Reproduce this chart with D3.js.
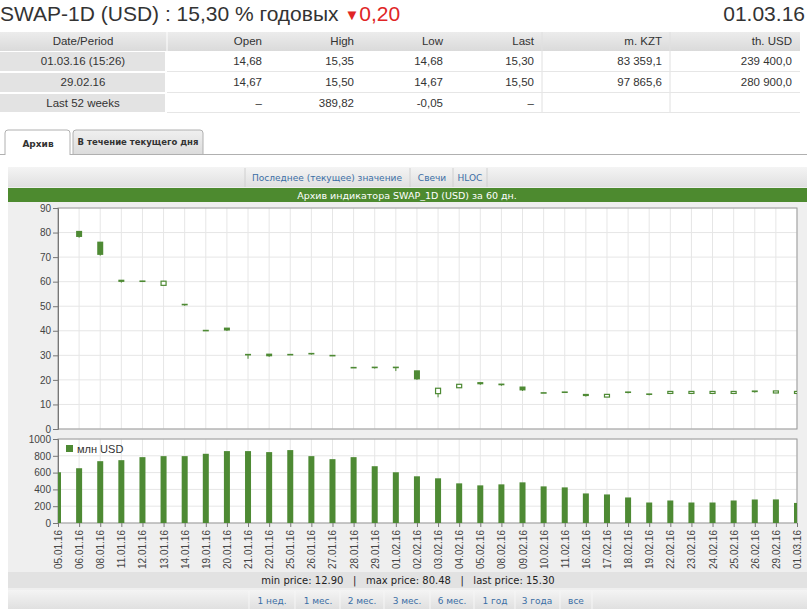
<!DOCTYPE html>
<html>
<head>
<meta charset="utf-8">
<script src="https://cdn.jsdelivr.net/npm/d3@7"></script>
<style>
body { margin: 0; background: #fff; }
svg { display: block; }
.link { fill: #3b6ea5; font-family: "DejaVu Sans", sans-serif; font-size: 9px; }
.tick text { font-family: "Liberation Sans", Arial, sans-serif; font-size: 10px; fill: #444; }
</style>
</head>
<body>
<svg id="c" width="807" height="609"></svg>
<script>
"use strict";
// dates of the 60 day archive
const dates = ["05.01.16","06.01.16","08.01.16","11.01.16","12.01.16","13.01.16","14.01.16","19.01.16","20.01.16","21.01.16","22.01.16","25.01.16","26.01.16","27.01.16","28.01.16","29.01.16","01.02.16","02.02.16","03.02.16","04.02.16","05.02.16","08.02.16","09.02.16","10.02.16","11.02.16","16.02.16","17.02.16","18.02.16","19.02.16","22.02.16","23.02.16","24.02.16","25.02.16","26.02.16","29.02.16","01.03.16"];
const open  = [null,80.48,76.1,60.6,60.3,58.5,50.8,40.2,41.1,30.4,30.5,30.4,30.8,30.0,25.1,25.2,25.2,23.7,14.4,16.8,18.9,18.3,17.1,14.8,15.1,14.1,13.0,15.1,14.3,14.5,14.5,14.5,14.5,15.5,14.67,14.68];
const high  = [null,80.48,76.1,60.6,60.3,60.3,50.8,40.2,41.1,30.4,30.5,30.4,30.8,30.0,25.1,25.2,25.2,23.7,16.6,18.2,18.9,18.3,17.1,14.8,15.1,14.1,14.1,15.1,14.3,15.3,15.3,15.3,15.3,15.5,15.50,15.35];
const low   = [null,77.9,70.6,59.6,60.2,58.5,50.2,40.1,39.9,28.6,29.4,30.3,30.3,30.0,25.0,24.6,23.6,20.0,12.9,16.8,18.0,17.6,15.5,14.7,15.0,13.2,13.0,14.5,13.7,14.5,14.5,14.5,14.5,14.8,14.67,14.68];
const close = [null,78.0,70.7,59.7,60.25,60.2,50.75,40.15,39.9,30.3,29.4,30.35,30.3,29.95,25.05,24.6,25.1,20.0,16.6,18.2,18.0,17.6,15.5,14.75,15.05,13.2,14.1,14.5,13.7,15.3,15.3,15.3,15.3,14.8,15.50,15.30];
const volume = [604,652,736,748,784,796,796,824,856,856,844,868,796,760,784,676,604,556,532,472,448,460,484,436,424,352,340,304,244,268,244,244,268,280,281,239];

const priceTicks = [0,10,20,30,40,50,60,70,80,90];
const volumeTicks = [0,200,400,600,800,1000];

const tableHead = ["Date/Period","Open","High","Low","Last","m. KZT","th. USD"];
const tableRows = [
  ["01.03.16 (15:26)","14,68","15,35","14,68","15,30","83 359,1","239 400,0"],
  ["29.02.16","14,67","15,50","14,67","15,50","97 865,6","280 900,0"],
  ["Last 52 weeks","–","389,82","-0,05","–","",""]
];
const viewLinks = ["Последнее (текущее) значение","Свечи","HLOC"];
const periodLinks = ["1 нед.","1 мес.","2 мес.","3 мес.","6 мес.","1 год","3 года","все"];

const green = "#4e8a34";
const svg = d3.select("#c");
const defs = svg.append("defs");
function grad(id, a, b) {
  const g = defs.append("linearGradient").attr("id", id).attr("x1", 0).attr("x2", 0).attr("y1", 0).attr("y2", 1);
  g.append("stop").attr("offset", 0).attr("stop-color", a);
  g.append("stop").attr("offset", 1).attr("stop-color", b);
}
grad("gBar", "#f4f4f4", "#e0e0e0");
grad("gHead", "#ececec", "#dadada");
grad("gTab", "#f0f0f0", "#dcdcdc");

// ---- header
const title = svg.append("text").attr("x", 0).attr("y", 21)
  .style("font-family", "Liberation Sans, Arial, sans-serif").style("font-size", "21px").attr("fill", "#333");
title.append("tspan").text("SWAP-1D (USD) : 15,30 % годовых ");
title.append("tspan").attr("fill", "#e02525").style("font-size", "15px").attr("dy", -1).text("▼");
title.append("tspan").attr("fill", "#e02525").attr("dy", 1).text("0,20");
svg.append("text").attr("x", 805).attr("y", 21).attr("text-anchor", "end")
  .style("font-family", "Liberation Sans, Arial, sans-serif").style("font-size", "21px").attr("fill", "#333").text("01.03.16");

// ---- table
const colEdges = [0, 167, 270, 362, 451, 542, 670, 800];
const rowEdges = [32, 51, 72, 93, 113];
const tbl = svg.append("g").style("font-family", "Liberation Sans Narrow, Liberation Sans, Arial, sans-serif").style("font-size", "11.5px").attr("fill", "#333");
tbl.append("rect").attr("x", 0).attr("y", rowEdges[0]).attr("width", 800).attr("height", 19).attr("fill", "url(#gHead)");
[542, 670].forEach(x => tbl.append("line").attr("x1", x).attr("x2", x).attr("y1", 32).attr("y2", 113).attr("stroke", "#e0e0e0"));
tbl.append("line").attr("x1", 167).attr("x2", 167).attr("y1", 32).attr("y2", 51).attr("stroke", "#fff");
for (let r = 1; r < 4; r++) {
  tbl.append("rect").attr("x", 0).attr("y", rowEdges[r] + 1).attr("width", 165).attr("height", rowEdges[r + 1] - rowEdges[r] - 2).attr("fill", "#e3e3e3");
  tbl.append("line").attr("x1", 167).attr("x2", 800).attr("y1", rowEdges[r + 1] - 0.5).attr("y2", rowEdges[r + 1] - 0.5).attr("stroke", "#e6e6e6");
}
tableHead.forEach((h, i) => {
  tbl.append("text").attr("x", i === 0 ? 83 : colEdges[i + 1] - 8).attr("y", 45)
    .attr("text-anchor", i === 0 ? "middle" : "end").text(h);
});
tableRows.forEach((row, r) => {
  row.forEach((v, i) => {
    tbl.append("text").attr("x", i === 0 ? 83 : colEdges[i + 1] - 8).attr("y", rowEdges[r + 1] + 14)
      .attr("text-anchor", i === 0 ? "middle" : "end").text(v);
  });
});

// ---- tabs
svg.append("line").attr("x1", 0).attr("x2", 807).attr("y1", 154.5).attr("y2", 154.5).attr("stroke", "#b0b0b0");
svg.append("path").attr("d", "M5,155 V133 Q5,130 8,130 H67 Q70,130 70,133 V155").attr("fill", "#fff").attr("stroke", "#b0b0b0");
svg.append("path").attr("d", "M73,154 V133 Q73,130 76,130 H200 Q203,130 203,133 V154").attr("fill", "url(#gTab)").attr("stroke", "#b0b0b0");
svg.append("text").attr("x", 38).attr("y", 147).attr("text-anchor", "middle")
  .style("font-family", "DejaVu Sans, sans-serif").style("font-size", "9px").style("font-weight", "bold").attr("fill", "#333").text("Архив");
svg.append("text").attr("x", 138).attr("y", 145).attr("text-anchor", "middle")
  .style("font-family", "DejaVu Sans, sans-serif").style("font-size", "8.5px").style("font-weight", "bold").attr("fill", "#333").text("В течение текущего дня");

// ---- chart container
svg.append("rect").attr("x", 8).attr("y", 167).attr("width", 799).attr("height", 442).attr("fill", "#efefef");
svg.append("rect").attr("x", 8).attr("y", 167).attr("width", 799).attr("height", 20).attr("fill", "url(#gBar)");
const viewX = [327, 432, 470];
const viewSep = [245, 410, 453, 487];
viewSep.forEach(x => svg.append("line").attr("x1", x).attr("x2", x).attr("y1", 168).attr("y2", 187).attr("stroke", "#d0d0d0"));
viewLinks.forEach((t, i) => svg.append("text").attr("class", "link").attr("x", viewX[i]).attr("y", 181).attr("text-anchor", "middle").text(t));
svg.append("rect").attr("x", 8).attr("y", 188).attr("width", 799).attr("height", 14).attr("fill", "#4d8a2f");
svg.append("text").attr("x", 407).attr("y", 199).attr("text-anchor", "middle")
  .style("font-family", "DejaVu Sans, sans-serif").style("font-size", "9.5px").attr("fill", "#fff")
  .text("Архив индикатора SWAP_1D (USD) за 60 дн.");

// ---- scales
const x = d3.scalePoint().domain(dates).range([58, 797]);
const yP = d3.scaleLinear().domain([0, 90]).range([429, 208]);
const yV = d3.scaleLinear().domain([0, 1000]).range([523, 439]);

defs.append("clipPath").attr("id", "clipP").append("rect").attr("x", 58).attr("y", 208).attr("width", 739).attr("height", 221);
defs.append("clipPath").attr("id", "clipV").append("rect").attr("x", 58).attr("y", 439).attr("width", 739).attr("height", 84);

function panel(y, ticks, clip) {
  const g = svg.append("g");
  const [y0, y1] = y.range();
  g.append("rect").attr("x", 58).attr("y", y1).attr("width", 739).attr("height", y0 - y1).attr("fill", "#fff");
  g.selectAll(".vg").data(dates).join("line")
    .attr("x1", d => x(d)).attr("x2", d => x(d)).attr("y1", y1).attr("y2", y0).attr("stroke", "#e6e6e6");
  g.selectAll(".hg").data(ticks).join("line")
    .attr("x1", 58).attr("x2", 797).attr("y1", d => y(d)).attr("y2", d => y(d)).attr("stroke", "#e6e6e6");
  g.append("rect").attr("x", 58).attr("y", y1).attr("width", 739).attr("height", y0 - y1)
    .attr("fill", "none").attr("stroke", "#9a9a9a");
  const ax = svg.append("g").attr("transform", "translate(58,0)")
    .call(d3.axisLeft(y).tickValues(ticks).tickFormat(d3.format("d")).tickSize(5).tickPadding(2));
  ax.select(".domain").attr("stroke", "#777");
  ax.selectAll(".tick line").attr("stroke", "#777");
  return svg.append("g").attr("clip-path", "url(#" + clip + ")");
}

// ---- price candles
const pg = panel(yP, priceTicks, "clipP");
const candles = dates.map((d, i) => ({ d, o: open[i], h: high[i], l: low[i], c: close[i] })).filter(c => c.o !== null);
pg.selectAll(".wick").data(candles).join("line")
  .attr("x1", c => x(c.d)).attr("x2", c => x(c.d))
  .attr("y1", c => yP(c.h)).attr("y2", c => yP(c.l)).attr("stroke", green);
pg.selectAll(".body").data(candles).join("rect")
  .attr("x", c => c.c >= c.o ? x(c.d) - 2.5 : x(c.d) - 3)
  .attr("width", c => c.c >= c.o ? 5 : 6)
  .attr("y", c => yP(Math.max(c.o, c.c)) - (c.c >= c.o ? 0 : 0.5))
  .attr("height", c => c.c >= c.o ? Math.max(2, yP(Math.min(c.o, c.c)) - yP(Math.max(c.o, c.c)))
                                 : Math.max(1.6, yP(Math.min(c.o, c.c)) - yP(Math.max(c.o, c.c))))
  .attr("fill", c => c.c >= c.o ? "#fff" : green)
  .attr("stroke", c => c.c >= c.o ? green : "none")
  .attr("stroke-width", 1.2);

// ---- volume bars
const vg = panel(yV, volumeTicks, "clipV");
vg.selectAll(".bar").data(dates).join("rect")
  .attr("x", d => x(d) - 3).attr("width", 6)
  .attr("y", (d, i) => yV(volume[i])).attr("height", (d, i) => yV(0) - yV(volume[i]))
  .attr("fill", green);
svg.append("rect").attr("x", 66).attr("y", 445).attr("width", 7).attr("height", 7).attr("fill", green);
svg.append("text").attr("x", 77).attr("y", 453)
  .style("font-family", "Liberation Sans, Arial, sans-serif").style("font-size", "11px").attr("fill", "#333").text("млн USD");

// ---- date labels
const xa = svg.append("g").attr("transform", "translate(0,523)")
  .call(d3.axisBottom(x).tickSize(4).tickPadding(3));
xa.select(".domain").remove();
xa.selectAll(".tick line").attr("stroke", "#777");
xa.selectAll(".tick text").attr("transform", "rotate(-90)").attr("text-anchor", "end")
  .attr("x", -7).attr("y", 0).attr("dy", "0.35em");

// ---- stats and period links
svg.append("rect").attr("x", 8).attr("y", 572).attr("width", 799).attr("height", 16).attr("fill", "#e2e2e2");
svg.append("text").attr("x", 408).attr("y", 584).attr("text-anchor", "middle")
  .style("font-family", "DejaVu Sans, sans-serif").style("font-size", "10px").attr("fill", "#222")
  .attr("xml:space", "preserve").text("min price: 12.90   |   max price: 80.48   |   last price: 15.30");
svg.append("rect").attr("x", 8).attr("y", 590).attr("width", 799).attr("height", 19).attr("fill", "url(#gBar)");
const periodX = [272, 318, 362, 407, 452, 495, 537, 576];
const periodSep = [249, 295, 340, 384, 430, 474, 515, 560, 592];
periodSep.forEach(xx => svg.append("line").attr("x1", xx).attr("x2", xx).attr("y1", 591).attr("y2", 609).attr("stroke", "#f6f6f6"));
periodLinks.forEach((t, i) => svg.append("text").attr("class", "link").attr("x", periodX[i]).attr("y", 604).attr("text-anchor", "middle").text(t));
</script>
</body>
</html>
